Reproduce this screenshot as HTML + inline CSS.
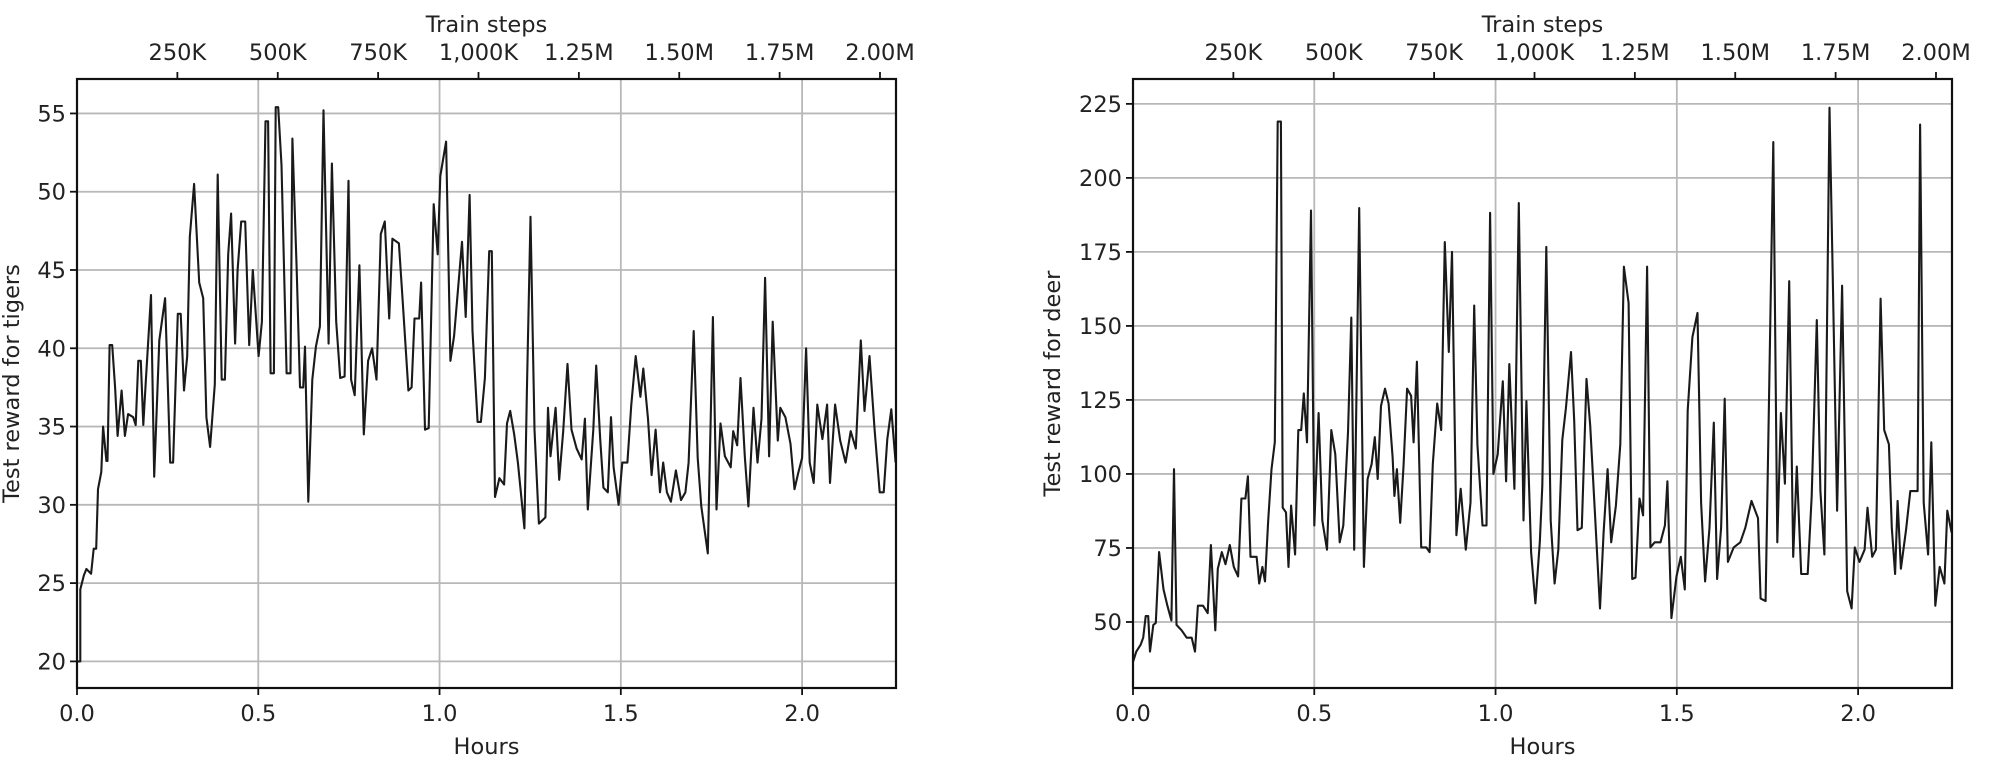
<!DOCTYPE html>
<html><head><meta charset="utf-8"><style>
html,body{margin:0;padding:0;background:#fff;}
svg text{font-family:"DejaVu Sans","Liberation Sans",sans-serif;fill:#222;}
</style></head><body>
<svg id="root" width="2000" height="766" xmlns="http://www.w3.org/2000/svg"></svg>
<script>
const tigerHours=[0,.009,.009,.019,.026,.039,.046,.053,.058,.067,.072,.081,.084,.090,.097,.105,.112,.123,.132,.141,.155,.162,.169,.176,.183,.190,.204,.213,.227,.243,.257,.265,.278,.286,.295,.304,.311,.323,.337,.348,.357,.367,.380,.388,.399,.408,.417,.425,.436,.443,.453,.464,.475,.485,.501,.510,.520,.527,.534,.543,.548,.555,.564,.578,.589,.594,.606,.615,.624,.629,.638,.649,.659,.670,.680,.694,.703,.715,.726,.738,.749,.756,.766,.779,.791,.803,.814,.826,.838,.849,.861,.870,.888,.898,.914,.923,.931,.944,.949,.960,.970,.984,.995,1.002,1.018,1.030,1.040,1.062,1.072,1.083,1.091,1.105,1.114,1.125,1.137,1.144,1.153,1.165,1.178,1.186,1.195,1.206,1.216,1.234,1.241,1.251,1.262,1.274,1.292,1.299,1.306,1.320,1.330,1.341,1.353,1.364,1.378,1.392,1.401,1.409,1.424,1.432,1.443,1.452,1.464,1.473,1.480,1.494,1.504,1.518,1.529,1.541,1.554,1.562,1.575,1.585,1.596,1.608,1.617,1.627,1.638,1.652,1.666,1.678,1.687,1.701,1.712,1.722,1.740,1.754,1.764,1.775,1.787,1.803,1.810,1.821,1.830,1.842,1.852,1.866,1.877,1.888,1.898,1.909,1.919,1.933,1.940,1.954,1.968,1.979,1.989,2.000,2.011,2.021,2.032,2.042,2.056,2.069,2.077,2.091,2.105,2.120,2.134,2.148,2.162,2.172,2.186,2.200,2.214,2.225,2.235,2.246,2.258];
const tigerReward=[20,20,24.6,25.5,25.9,25.6,27.2,27.2,31,32.1,35,32.8,32.8,40.2,40.2,37.5,34.4,37.3,34.4,35.8,35.6,35.1,39.2,39.2,35.1,38,43.4,31.8,40.5,43.2,32.7,32.7,42.2,42.2,37.3,39.5,47.1,50.5,44.2,43.2,35.6,33.7,37.7,51.1,38,38,46,48.6,40.3,45,48.1,48.1,40.2,45,39.5,41.7,54.5,54.5,38.4,38.4,55.4,55.4,51.7,38.4,38.4,53.4,45,37.5,37.5,40.1,30.2,38,40.1,41.4,55.2,40.3,51.8,41.7,38.1,38.2,50.7,38,37,45.3,34.5,39.2,40,38,47.3,48.1,41.9,47,46.7,43.1,37.3,37.5,41.9,41.9,44.2,34.8,34.9,49.2,46,51,53.2,39.2,40.8,46.8,42,49.8,41.1,35.3,35.3,38.1,46.2,46.2,30.5,31.7,31.3,35.2,36,34.5,32.7,28.5,37.3,48.4,34.8,28.8,29.2,36.2,33.1,36.2,31.6,34.7,39,34.8,33.6,32.9,35.5,29.7,34.8,38.9,34.2,31.1,30.8,35.6,32.4,30,32.7,32.7,36.4,39.5,36.9,38.7,35.5,31.9,34.8,30.8,32.7,30.8,30.2,32.2,30.3,30.8,32.7,41.1,33,29.9,26.9,42,29.7,35.2,33.1,32.4,34.7,33.8,38.1,33.1,29.9,36.2,32.7,35.5,44.5,33.1,41.7,34.1,36.2,35.6,33.9,31,32,33,40,32.7,31.4,36.4,34.2,36.4,31.4,36.4,34.1,32.7,34.7,33.6,40.5,36,39.5,34.8,30.8,30.8,34.2,36.1,32.7];
const deerHours=[0,.009,.021,.028,.035,.042,.047,.056,.063,.072,.084,.095,.106,.113,.120,.134,.148,.162,.171,.179,.193,.206,.215,.227,.234,.245,.255,.267,.278,.290,.299,.310,.317,.324,.341,.348,.357,.364,.373,.382,.391,.399,.408,.413,.422,.429,.436,.447,.456,.464,.471,.480,.491,.500,.512,.522,.535,.547,.558,.570,.580,.593,.602,.610,.624,.637,.647,.658,.667,.675,.684,.695,.705,.716,.721,.728,.737,.746,.756,.767,.774,.783,.795,.809,.818,.827,.839,.850,.860,.871,.880,.892,.904,.918,.931,.941,.950,.964,.975,.985,.994,1.006,1.020,1.029,1.038,1.052,1.064,1.077,1.085,1.098,1.110,1.122,1.129,1.140,1.152,1.163,1.173,1.184,1.194,1.208,1.217,1.226,1.238,1.251,1.261,1.274,1.288,1.298,1.309,1.319,1.332,1.344,1.354,1.367,1.377,1.386,1.397,1.407,1.418,1.427,1.439,1.455,1.467,1.474,1.485,1.499,1.511,1.522,1.530,1.543,1.557,1.567,1.578,1.590,1.602,1.611,1.622,1.632,1.641,1.657,1.675,1.689,1.706,1.724,1.731,1.745,1.754,1.766,1.777,1.787,1.798,1.810,1.821,1.831,1.843,1.861,1.872,1.886,1.896,1.907,1.921,1.930,1.942,1.956,1.970,1.982,1.991,2.004,2.018,2.026,2.039,2.049,2.062,2.072,2.085,2.093,2.102,2.109,2.118,2.132,2.144,2.164,2.171,2.181,2.193,2.202,2.213,2.225,2.238,2.246,2.258];
const deerReward=[36.5,40,42.3,44.7,52,52,40,49,49.7,73.6,61,55.5,50.5,101.6,49,47.2,44.7,44.7,40,55.5,55.5,53,76,47.2,68,73.6,69.5,76,68.6,65.4,91.7,91.7,99.2,72,72,63,68.6,63.7,84.3,101.6,110.7,219,219,88.6,87,68.6,89.3,72.8,114.8,114.8,127.2,110.7,189,82.6,120.6,84.3,74.4,114.8,106.6,76.9,82.6,114,152.8,74.4,189.8,68.6,98.3,103.3,112.4,98.3,123,128.8,123.8,105.7,92.6,101.6,83.5,102.5,128.8,126.4,110.7,137.9,75.2,75.2,73.6,103.3,123.8,114.8,178.3,141.2,175,79.3,95,74.4,90.3,156.9,110,82.6,82.6,188.2,100,106.6,131.3,97.5,137.1,95,191.5,84.3,124.6,73.6,56.3,76.9,95.9,176.7,84.3,63,74.4,111.5,122.2,141.2,118,81,81.8,132.1,116.4,87,54.6,80.2,101.6,76.9,89.3,110,170,157.7,64.5,65,91.7,86,170,75.2,76.9,76.9,82.6,97.5,51.3,65.4,72,61,121.4,146.2,154.4,90.3,63.7,81.8,117.3,64.5,81.8,125.4,70.3,75.2,76.9,81.8,90.9,85.1,57.9,57.1,123,212.1,76.9,120.6,96.7,165.1,72,102.5,66.2,66.2,92.6,152,94.2,72.8,223.7,167.6,87.6,163.6,60.4,54.6,75.2,70.3,74.4,88.6,72,74.4,159.2,114.8,110,81.8,66.2,90.9,68,81,94.2,94.2,218,90.3,72.8,110.7,55.5,68.6,63,87.6,80.2];
const hourTicks=[0,0.5,1.0,1.5,2.0];
const hourTickLabels=["0.0","0.5","1.0","1.5","2.0"];
const stepTicks=[250000,500000,750000,1000000,1250000,1500000,1750000,2000000];
const stepTickLabels=["250K","500K","750K","1,000K","1.25M","1.50M","1.75M","2.00M"];
const tigerYTicks=[20,25,30,35,40,45,50,55];
const deerYTicks=[50,75,100,125,150,175,200,225];

const NS="http://www.w3.org/2000/svg";
const root=document.getElementById('root');
function mk(tag,attrs,parent){const e=document.createElementNS(NS,tag);for(const k in attrs)e.setAttribute(k,attrs[k]);(parent||root).appendChild(e);return e;}
const FS=22.5;
function drawChart(cfg){
  const g=mk('g',{});
  
  
  const x0=cfg.x0,x1=cfg.x0+819,y0=79,y1=688;
  const hMax=2.259,stepsPerHour=903000;
  const sx=h=>x0+(h/hMax)*(x1-x0);
  const sy=v=>y1-(v-cfg.yMin)/(cfg.yMax-cfg.yMin)*(y1-y0);
  hourTicks.forEach((t,i)=>{
    const l=mk('line',{x1:sx(t),x2:sx(t),y1:y0,y2:y1,stroke:'#b8b8b8','stroke-width':1.8},g);
    
    
  });
  cfg.yTicks.forEach(t=>{
    const l=mk('line',{x1:x0,x2:x1,y1:sy(t),y2:sy(t),stroke:'#b8b8b8','stroke-width':1.8},g);
    
    
  });
  let d='';
  cfg.hours.forEach((h,i)=>{d+=(i?'L':'M')+sx(h).toFixed(1)+','+sy(cfg.values[i]).toFixed(1);});
  const p=mk('path',{d:d,fill:'none',stroke:'#1a1a1a','stroke-width':2.1,'stroke-linejoin':'round'},g);
  
  
  const f=mk('rect',{x:x0,y:y0,width:x1-x0,height:y1-y0,fill:'none',stroke:'#111','stroke-width':2.2},g);
  
  
  hourTicks.forEach((t,i)=>{
    mk('line',{x1:sx(t),x2:sx(t),y1:y1,y2:y1+7,stroke:'#111','stroke-width':1.8},g);
    const tx=mk('text',{x:sx(t),y:y1+33,'font-size':FS,'text-anchor':'middle'},g);
    tx.textContent=hourTickLabels[i];
    
    
  });
  const xl=mk('text',{x:(x0+x1)/2,y:754,'font-size':FS,'text-anchor':'middle'},g);
  xl.textContent='Hours';
  
  
  stepTicks.forEach((s,i)=>{
    const x=sx(s/stepsPerHour);
    mk('line',{x1:x,x2:x,y1:y0,y2:y0-7,stroke:'#111','stroke-width':1.8},g);
    const tx=mk('text',{x:x,y:y0-19,'font-size':FS,'text-anchor':'middle'},g);
    tx.textContent=stepTickLabels[i];
    
    
  });
  const tl=mk('text',{x:(x0+x1)/2,y:32,'font-size':FS,'text-anchor':'middle'},g);
  tl.textContent='Train steps';
  
  
  cfg.yTicks.forEach(t=>{
    mk('line',{x1:x0,x2:x0-7,y1:sy(t),y2:sy(t),stroke:'#111','stroke-width':1.8},g);
    const tx=mk('text',{x:x0-11,y:sy(t)+8,'font-size':FS,'text-anchor':'end'},g);
    tx.textContent=String(t);
    
    
  });
  const yc=(y0+y1)/2;
  const yl=mk('text',{x:cfg.ylabelX,y:yc,'font-size':FS,'text-anchor':'middle',transform:`rotate(-90 ${cfg.ylabelX} ${yc})`},g);
  yl.textContent=cfg.ylabel;
  
  
}
drawChart({name:'tiger-chart',seriesName:'tiger-reward-line',x0:77,hours:tigerHours,values:tigerReward,yTicks:tigerYTicks,yMin:18.3,yMax:57.2,ylabel:'Test reward for tigers',ylabelX:19});
drawChart({name:'deer-chart',seriesName:'deer-reward-line',x0:1133,hours:deerHours,values:deerReward,yTicks:deerYTicks,yMin:27.7,yMax:233.4,ylabel:'Test reward for deer',ylabelX:1060});
</script>
</body></html>
